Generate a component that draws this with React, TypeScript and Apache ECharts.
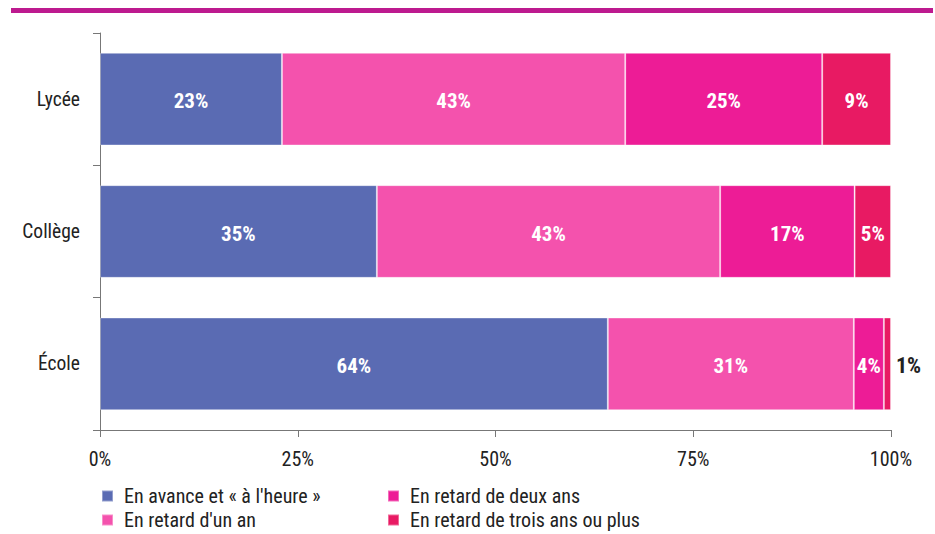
import React, { useEffect, useRef } from "react";
import * as echarts from "echarts";

const categories = ["École", "Collège", "Lycée"];
const seriesNames = [
  "En avance et « à l'heure »",
  "En retard d'un an",
  "En retard de deux ans",
  "En retard de trois ans ou plus",
];
const avance = [64.2, 35.0, 23.0];
const unAn = [31.1, 43.4, 43.4];
const deuxAns = [3.8, 17.0, 24.9];
const troisAns = [0.9, 4.6, 8.7];
const xTicks = [0, 25, 50, 75, 100];
const colors = ["#5a6bb3", "#f452ad", "#ed1c96", "#e81a63"];

const FONT = "'Liberation Sans Narrow', 'Roboto Condensed', 'DejaVu Sans Condensed', sans-serif";

export default function App() {
  const ref = useRef<HTMLDivElement>(null);
  useEffect(() => {
    if (!ref.current) return;
    const chart = echarts.init(ref.current, null, { renderer: "svg" });
    const values = [avance, unAn, deuxAns, troisAns];
    const series = values.map((vals, i) => ({
      name: seriesNames[i],
      type: "bar",
      stack: "total",
      barWidth: "70%",
      itemStyle: { color: colors[i], borderColor: "rgba(255,255,255,0.35)", borderWidth: 1 },
      data: vals.map((v) => {
        const small = v < 2;
        return {
          value: v,
          label: {
            show: true,
            position: small ? "right" : "inside",
            distance: 5,
            formatter: Math.round(v) + "%",
            color: small ? "#222" : "#fff",
            fontWeight: "bold",
            fontSize: small ? 22 : 21,
            fontFamily: FONT,
            offset: [0, 2],
          },
        };
      }),
    }));
    const legendPos = [
      { left: 96, top: 481 },
      { left: 96, top: 505 },
      { left: 382, top: 481 },
      { left: 382, top: 505 },
    ];
    const legends = seriesNames.map((n, i) => ({
      left: legendPos[i].left,
      top: legendPos[i].top,
      itemWidth: 11,
      itemHeight: 11,
      icon: "rect",
      selectedMode: false,
      data: [n],
      textStyle: { color: "#222", fontSize: 20, fontFamily: FONT, padding: [0, 0, 0, 6] },
    }));
    chart.setOption({
      animation: false,
      graphic: [
        {
          type: "rect",
          shape: { x: 11, y: 8, width: 922, height: 5 },
          style: { fill: "#bd1a8f" },
        },
      ],
      grid: { left: 100, right: 44, top: 33, bottom: 104 },
      xAxis: {
        type: "value",
        min: 0,
        max: 100,
        interval: 25,
        axisLine: { show: true, lineStyle: { color: "#777", width: 1 } },
        axisTick: { show: true, length: 7, lineStyle: { color: "#777" } },
        splitLine: { show: false },
        axisLabel: {
          formatter: (v: number) => (xTicks.includes(v) ? v + "%" : ""),
          color: "#222",
          fontSize: 20,
          fontFamily: FONT,
          margin: 19,
        },
      },
      yAxis: {
        type: "category",
        data: categories,
        axisLine: { show: true, lineStyle: { color: "#777", width: 1 } },
        axisTick: { show: true, length: 7, lineStyle: { color: "#777" } },
        axisLabel: {
          color: "#222",
          fontSize: 19.5,
          fontFamily: FONT,
          margin: 20,
        },
      },
      legend: legends,
      series,
    });
    return () => chart.dispose();
  }, []);
  return <div ref={ref} style={{ width: 935, height: 534, position: "absolute", left: 0, top: 0 }} />;
}
